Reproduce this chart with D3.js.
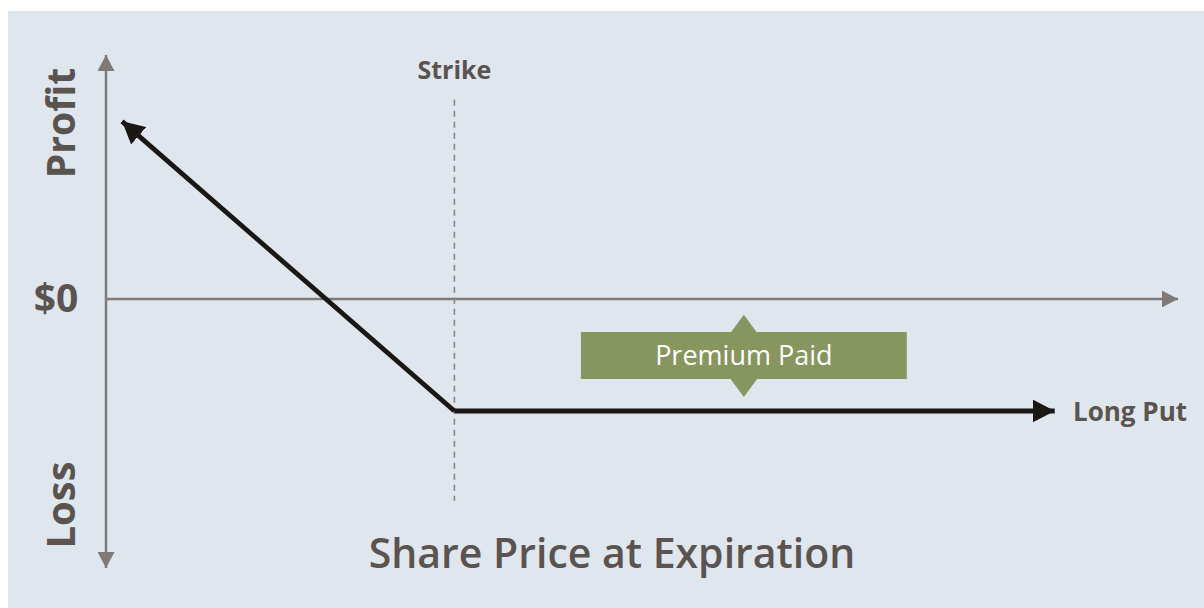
<!DOCTYPE html>
<html>
<head>
<meta charset="utf-8">
<script src="https://cdn.jsdelivr.net/npm/d3@7"></script>
<style>
  body{margin:0;background:#fff;}
  text{font-family:"Open Sans",sans-serif;}
</style>
</head>
<body>
<script>
// payoff of a long put
let strike=32.5, premium=12;
let payoffPrice=[1.5,32.5,88.5];
let payoffProfit=[19,-12,-12];
let axisLabels=["Profit","$0","Loss"];

let W=1204,H=608;
let x=d3.scaleLinear().domain([0,100]).range([106,1178]);
let y=d3.scaleLinear().domain([-28.8,26.1]).range([568,55]);

let svg=d3.select("body").append("svg").attr("width",W).attr("height",H);
svg.append("rect").attr("x",8).attr("y",11).attr("width",W-8).attr("height",H-11).attr("fill","#dfe6ee");

let defs=svg.append("defs");
function marker(id,col,w,h){
    defs.append("marker").attr("id",id)
        .attr("viewBox",`0 0 ${w} ${h}`).attr("refX",w).attr("refY",h/2)
        .attr("markerWidth",w).attr("markerHeight",h)
        .attr("markerUnits","userSpaceOnUse").attr("orient","auto")
        .append("path").attr("d",`M0,0L${w},${h/2}L0,${h}Z`).attr("fill",col);
}
marker("axArrow","#7f7a78",16,17);
marker("blkArrow","#1a1714",22,23);

// axes
let axCol="#7f7a78";
svg.append("line").attr("x1",x(0)).attr("x2",x(0)).attr("y1",y(0)).attr("y2",y(26.1))
    .attr("stroke",axCol).attr("stroke-width",2.5).attr("marker-end","url(#axArrow)");
svg.append("line").attr("x1",x(0)).attr("x2",x(0)).attr("y1",y(0)).attr("y2",y(-28.8))
    .attr("stroke",axCol).attr("stroke-width",2.5).attr("marker-end","url(#axArrow)");
svg.append("line").attr("x1",x(0)).attr("x2",x(100)).attr("y1",y(0)).attr("y2",y(0))
    .attr("stroke",axCol).attr("stroke-width",2.5).attr("marker-end","url(#axArrow)");

// strike line
svg.append("line").attr("x1",x(strike)).attr("x2",x(strike)).attr("y1",y(21.3)).attr("y2",y(-21.6))
    .attr("stroke","#8a8584").attr("stroke-width",1.6).attr("stroke-dasharray","6,5");
svg.append("text").attr("x",x(strike)).attr("y",79).attr("text-anchor","middle")
    .attr("font-size",25).attr("font-weight",700).attr("fill","#5a5350").text("Strike");

// premium paid box with double arrow
let bx0=44.3,bx1=74.7,cx=x((bx0+bx1)/2);
let green="#87955f";
let tipTop=y(-1.7),tipBot=y(-10.5);
svg.append("path").attr("d",`M${cx},${tipTop}L${cx+14},${tipTop+19}L${cx+14},${tipBot-19}L${cx},${tipBot}L${cx-14},${tipBot-19}L${cx-14},${tipTop+19}Z`)
    .attr("fill",green);
svg.append("rect").attr("x",x(bx0)).attr("y",332).attr("width",x(bx1)-x(bx0)).attr("height",47).attr("fill",green);
svg.append("text").attr("x",cx).attr("y",365).attr("text-anchor","middle")
    .attr("font-size",27).attr("fill","#fff").text("Premium Paid");

// payoff line
let pts=payoffPrice.map((p,i)=>[p,payoffProfit[i]]);
let line=d3.line().x(d=>x(d[0])).y(d=>y(d[1]));
svg.append("path").attr("d",line(pts.slice(0,2).reverse())).attr("fill","none")
    .attr("stroke","#1a1714").attr("stroke-width",4.8).attr("marker-end","url(#blkArrow)");
svg.append("path").attr("d",line(pts.slice(1))).attr("fill","none")
    .attr("stroke","#1a1714").attr("stroke-width",4.8).attr("marker-end","url(#blkArrow)");
svg.append("text").attr("x",1073).attr("y",421).attr("font-size",26).attr("font-weight",700)
    .attr("fill","#5a5350").text("Long Put");

// y labels
let lab=svg.append("g").attr("fill","#5a5350").attr("font-weight",700);
lab.append("text").attr("transform","translate(75,123) rotate(-90)").attr("text-anchor","middle")
    .attr("font-size",39).text(axisLabels[0]);
lab.append("text").attr("x",56).attr("y",y(0)+13).attr("text-anchor","middle")
    .attr("font-size",39).text(axisLabels[1]);
lab.append("text").attr("transform","translate(75,505) rotate(-90)").attr("text-anchor","middle")
    .attr("font-size",40).text(axisLabels[2]);

svg.append("text").attr("x",612).attr("y",568).attr("text-anchor","middle")
    .attr("font-size",41).attr("font-weight",600).attr("fill","#5a5350").text("Share Price at Expiration");
</script>
</body>
</html>
